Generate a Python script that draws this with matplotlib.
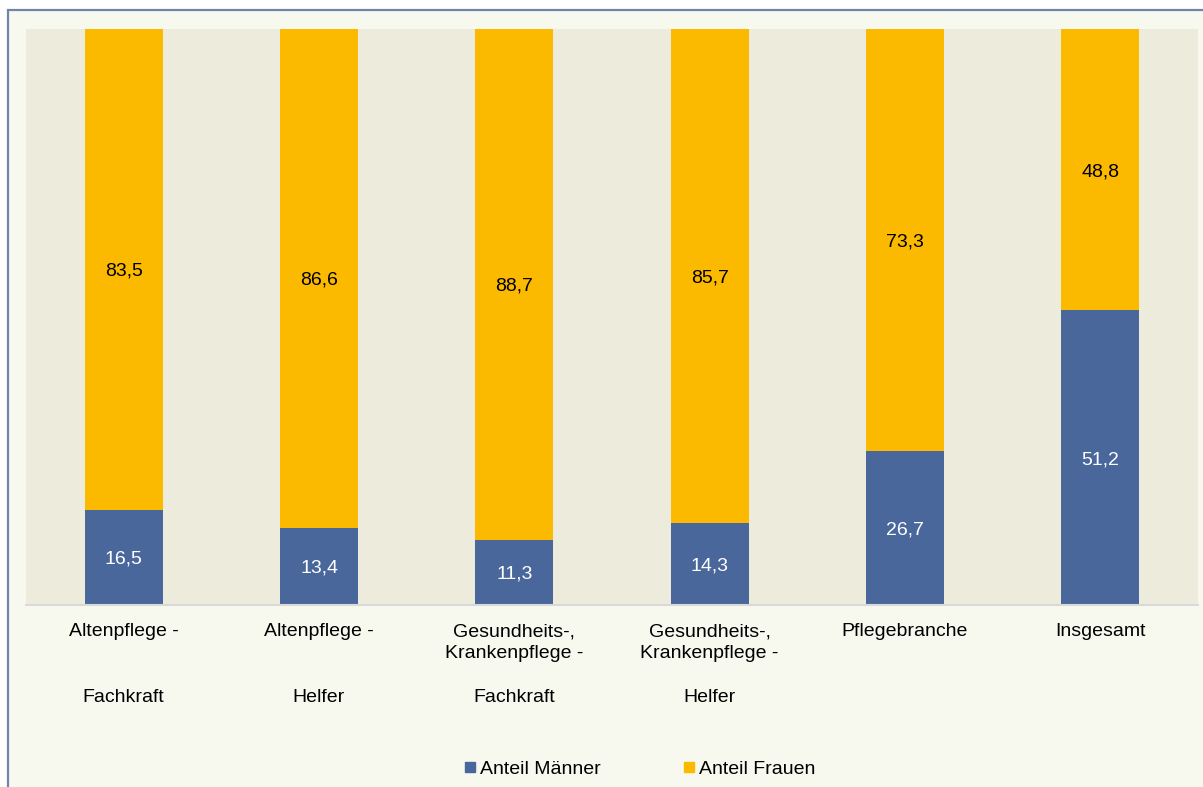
import matplotlib.pyplot as plt
from matplotlib.patches import Rectangle
from matplotlib.lines import Line2D

plt.rcParams['font.family'] = ['Liberation Sans', 'DejaVu Sans']

categories = ['Altenpflege -\n\n\nFachkraft', 'Altenpflege -\n\n\nHelfer',
              'Gesundheits-,\nKrankenpflege -\n\nFachkraft',
              'Gesundheits-,\nKrankenpflege -\n\nHelfer',
              'Pflegebranche', 'Insgesamt']
maenner = [16.5, 13.4, 11.3, 14.3, 26.7, 51.2]
frauen = [83.5, 86.6, 88.7, 85.7, 73.3, 48.8]

blue = '#4A679B'
orange = '#FBB900'

W, H = 1203, 787
fig = plt.figure(figsize=(W / 100, H / 100), dpi=100)
fig.patch.set_facecolor('white')

# outer frame
frame = Rectangle((8 / W, -0.05), 1.05, (H - 10) / H + 0.05,
                  transform=fig.transFigure, facecolor='#F8F9EE',
                  edgecolor='#7185AC', linewidth=1.6, zorder=-10)
fig.add_artist(frame)

ax = fig.add_axes([26 / W, 1 - 605 / H, (1198 - 26) / W, (605 - 29) / H])
ax.set_facecolor('#EDEBDC')

x = range(len(categories))
ax.bar(x, maenner, width=0.4, color=blue, label='Anteil Männer')
ax.bar(x, frauen, width=0.4, bottom=maenner, color=orange, label='Anteil Frauen')

for i in x:
    ax.text(i, maenner[i] / 2, f'{maenner[i]:.1f}'.replace('.', ','),
            ha='center', va='center_baseline', color='white', fontsize=14)
    ax.text(i, maenner[i] + frauen[i] / 2, f'{frauen[i]:.1f}'.replace('.', ','),
            ha='center', va='center_baseline', color='black', fontsize=14)

ax.set_xlim(-0.5, len(categories) - 0.5)
ax.set_ylim(0, 100)
ax.set_yticks([])
ax.set_xticks(list(x))
ax.set_xticklabels(categories, fontsize=14, linespacing=1.38, va='top')
ax.tick_params(axis='x', length=0, pad=13)
for s in ['top', 'left', 'right']:
    ax.spines[s].set_visible(False)
ax.spines['bottom'].set_color('#D9D9D9')
ax.spines['bottom'].set_linewidth(1.5)

handles = [Line2D([], [], marker='s', linestyle='none', markersize=7.2, color=blue),
           Line2D([], [], marker='s', linestyle='none', markersize=7.2, color=orange)]
fig.legend(handles, ['Anteil Männer', 'Anteil Frauen'], ncol=2, frameon=False,
           loc='center', bbox_to_anchor=(640 / W, 1 - 769 / H), fontsize=14,
           handlelength=0.5, handletextpad=0.25, columnspacing=4.3)

fig.savefig('out.png', dpi=100)
